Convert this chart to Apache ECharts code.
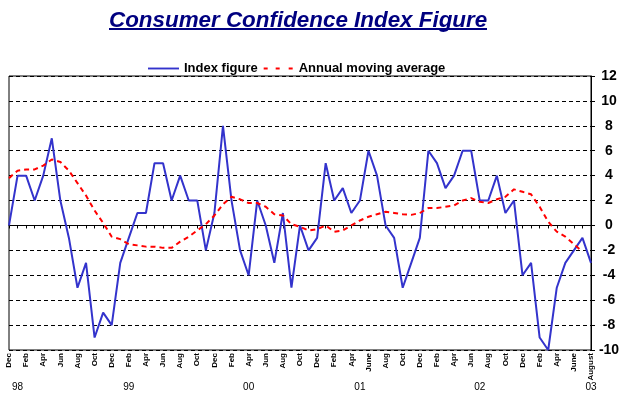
<!DOCTYPE html>
<html>
<head>
<meta charset="utf-8">
<script src="https://cdn.jsdelivr.net/npm/echarts@6/dist/echarts.min.js"></script>
<style>
  html, body { margin: 0; padding: 0; background: #fff; }
  #chart { width: 623px; height: 396px; }
</style>
</head>
<body>
<div id="chart"></div>
<script>
// month labels, Dec 97 .. Aug 03 (only every other one is shown)
const monthLabels = [
  "Dec",
  "Jan", "Feb", "Mar", "Apr", "May", "Jun", "Jul", "Aug", "Sep", "Oct", "Nov", "Dec",
  "Jan", "Feb", "Mar", "Apr", "May", "Jun", "Jul", "Aug", "Sep", "Oct", "Nov", "Dec",
  "Jan", "Feb", "Mar", "Apr", "May", "Jun", "Jul", "Aug", "Sep", "Oct", "Nov", "Dec",
  "Jan", "Feb", "Mar", "Apr", "May", "June", "Jul", "Aug", "Sep", "Oct", "Nov", "Dec",
  "Jan", "Feb", "Mar", "Apr", "May", "Jun", "Jul", "Aug", "Sep", "Oct", "Nov", "Dec",
  "Jan", "Feb", "Mar", "Apr", "May", "June", "Jul", "August"
];

// year row under the months
const yearLabels = monthLabels.map(() => "");
yearLabels[1] = "98";
yearLabels[14] = "99";
yearLabels[28] = "00";
yearLabels[41] = "01";
yearLabels[55] = "02";
yearLabels[68] = "03";

const indexFigure = [
  0, 4, 4, 2, 4, 7, 2, -1, -5, -3,
  -9, -7, -8, -3, -1, 1, 1, 5, 5, 2,
  4, 2, 2, -2, 1, 8, 2, -2, -4, 2,
  0, -3, 1, -5, 0, -2, -1, 5, 2, 3,
  1, 2, 6, 4, 0, -1, -5, -3, -1, 6,
  5, 3, 4, 6, 6, 2, 2, 4, 1, 2,
  -4, -3, -9, -10, -5, -3, -2, -1, -3
];

const movingAverage = [
  3.8, 4.4, 4.5, 4.5, 4.8, 5.3, 5.1, 4.4, 3.4, 2.4,
  1.2, 0.2, -0.9, -1.1, -1.5, -1.6, -1.7, -1.7, -1.8, -1.8,
  -1.3, -0.9, -0.4, 0.1, 0.8, 1.7, 2.3, 2.1, 1.8, 1.8,
  1.5, 0.9, 0.8, 0.1, -0.1, -0.4, -0.3, 0.0, -0.5, -0.4,
  0.0, 0.4, 0.7, 0.9, 1.1, 1.0, 0.9, 0.85, 1.0, 1.4,
  1.4, 1.5, 1.6, 2.0, 2.2, 1.9, 1.8, 2.1, 2.3, 2.9,
  2.7, 2.5, 1.5, 0.3, -0.5, -0.9, -1.5, -2.1, null
];

const yTicks = { min: -10, max: 12, step: 2 };

const FONT = "'Liberation Sans', Arial, sans-serif";

const chart = echarts.init(document.getElementById("chart"), null, { renderer: "canvas" });

chart.setOption({
  backgroundColor: "#fff",
  animation: false,
  title: {
    text: "Consumer Confidence Index Figure",
    left: 104,
    top: 5,
    textStyle: {
      fontFamily: FONT,
      fontSize: 22.4,
      fontWeight: "bold",
      fontStyle: "italic",
      color: "#000080"
    }
  },
  // underline of the title
  graphic: [{
    type: "line",
    shape: { x1: 109, y1: 29, x2: 487, y2: 29 },
    style: { stroke: "#000080", lineWidth: 2 }
  }],
  legend: {
    top: 57,
    left: 143,
    itemWidth: 31,
    itemHeight: 2,
    itemGap: 6,
    textStyle: { fontFamily: FONT, fontSize: 13, fontWeight: "bold", color: "#000" },
    data: [
      { name: "Index figure", icon: "path://M0,0H33V2H0Z" },
      { name: "Annual moving average", icon: "path://M0,0h4v2h-4zM12,0h4v2h-4zM25,0h4v2h-4z" }
    ]
  },
  grid: {
    left: 9,
    right: 32,
    top: 76,
    bottom: 46,
    show: true,
    borderColor: "#000",
    borderWidth: 1
  },
  xAxis: [{
    type: "category",
    data: monthLabels,
    boundaryGap: false,
    axisLine: { lineStyle: { color: "#000", width: 1 } },
    axisTick: { interval: 0, length: 3, lineStyle: { color: "#000" } },
    axisLabel: {
      interval: 1,
      rotate: 90,
      margin: 3,
      fontFamily: FONT,
      fontSize: 8,
      fontWeight: "bold",
      color: "#000"
    },
    splitLine: { show: false }
  }, {
    type: "category",
    data: yearLabels,
    boundaryGap: false,
    position: "bottom",
    axisLine: { show: false },
    axisTick: { show: false },
    axisLabel: {
      interval: 0,
      margin: 32,
      fontFamily: FONT,
      fontSize: 10,
      color: "#000"
    },
    splitLine: { show: false }
  }],
  yAxis: {
    type: "value",
    position: "right",
    min: yTicks.min,
    max: yTicks.max,
    interval: yTicks.step,
    axisLine: { show: true, lineStyle: { color: "#000", width: 1 } },
    axisTick: { show: true, inside: false, length: 4, lineStyle: { color: "#000" } },
    axisLabel: {
      margin: 18,
      align: "center",
      fontFamily: FONT,
      fontSize: 14,
      fontWeight: "bold",
      color: "#000"
    },
    splitLine: { show: true, lineStyle: { color: "#000", type: [4, 3], width: 1 } }
  },
  series: [{
    name: "Index figure",
    type: "line",
    data: indexFigure,
    symbol: "none",
    lineStyle: { color: "#3333CC", width: 2 },
    itemStyle: { color: "#3333CC" },
    z: 3
  }, {
    name: "Annual moving average",
    type: "line",
    data: movingAverage,
    symbol: "none",
    lineStyle: { color: "#FF0000", width: 2, type: [5, 4] },
    itemStyle: { color: "#FF0000" },
    z: 4
  }]
});
</script>
</body>
</html>
